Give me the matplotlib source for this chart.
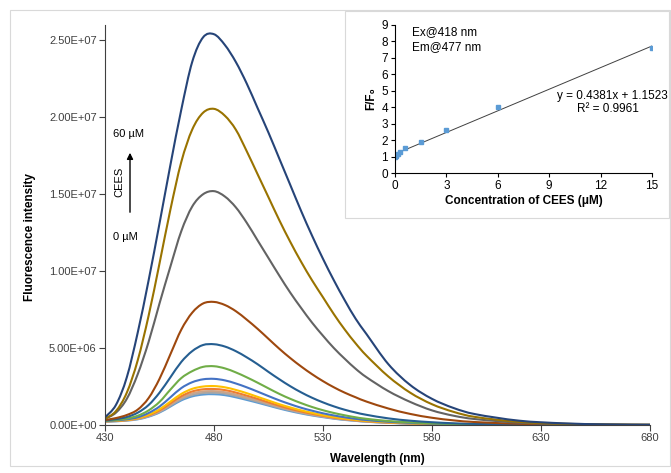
import matplotlib.pyplot as plt
from matplotlib.patches import Rectangle, PathPatch
from matplotlib.path import Path
from matplotlib.ticker import FuncFormatter, MultipleLocator
import numpy as np

plt.rcParams['font.family'] = ['Liberation Sans', 'DejaVu Sans']

# emission wavelengths (nm)
wavelength = [430, 435, 440, 445, 450, 455, 460, 465, 470, 475, 480, 485, 490,
              495, 500, 505, 510, 515, 520, 525, 530, 535, 540, 545, 550,
              560, 570, 580, 590, 600, 620, 640, 660, 680]

# intensities in units of 1e6, lowest concentration (0 uM) first
s_0 = [0.22, 0.24, 0.29, 0.37, 0.54, 0.81, 1.2, 1.6, 1.86, 1.98, 2.0, 1.94, 1.8,
       1.63, 1.45, 1.26, 1.07, 0.9, 0.75, 0.62, 0.51, 0.41, 0.33, 0.27, 0.21,
       0.14, 0.09, 0.06, 0.04, 0.02, 0.01, 0, 0, 0]
s_1 = [0.23, 0.25, 0.3, 0.39, 0.57, 0.85, 1.26, 1.68, 1.95, 2.08, 2.1, 2.04, 1.89,
       1.71, 1.52, 1.32, 1.12, 0.95, 0.79, 0.65, 0.54, 0.43, 0.35, 0.28, 0.22,
       0.15, 0.1, 0.06, 0.04, 0.02, 0.01, 0, 0, 0]
s_2 = [0.23, 0.26, 0.31, 0.41, 0.6, 0.89, 1.32, 1.76, 2.05, 2.18, 2.2, 2.13, 1.98,
       1.79, 1.6, 1.39, 1.18, 0.99, 0.83, 0.68, 0.56, 0.45, 0.36, 0.3, 0.23,
       0.15, 0.1, 0.07, 0.04, 0.02, 0.01, 0, 0, 0]
s_3 = [0.24, 0.27, 0.32, 0.43, 0.63, 0.95, 1.41, 1.87, 2.18, 2.32, 2.34, 2.27, 2.11,
       1.91, 1.7, 1.47, 1.25, 1.05, 0.88, 0.73, 0.6, 0.48, 0.39, 0.31, 0.25,
       0.16, 0.11, 0.07, 0.05, 0.03, 0.01, 0, 0, 0]
s_4 = [0.25, 0.28, 0.34, 0.45, 0.67, 1.02, 1.52, 2.02, 2.35, 2.5, 2.53, 2.45, 2.28,
       2.07, 1.83, 1.59, 1.35, 1.14, 0.95, 0.79, 0.64, 0.52, 0.42, 0.34, 0.27,
       0.18, 0.12, 0.08, 0.05, 0.03, 0.01, 0, 0, 0]
s_5 = [0.26, 0.3, 0.37, 0.5, 0.78, 1.2, 1.8, 2.4, 2.78, 2.97, 3.0, 2.9, 2.7,
       2.45, 2.17, 1.88, 1.6, 1.35, 1.12, 0.93, 0.76, 0.62, 0.5, 0.4, 0.32,
       0.21, 0.14, 0.09, 0.06, 0.04, 0.02, 0.01, 0, 0]
s_6 = [0.28, 0.33, 0.42, 0.6, 0.95, 1.5, 2.3, 3.05, 3.5, 3.78, 3.82, 3.68, 3.42,
       3.1, 2.75, 2.38, 2.02, 1.7, 1.42, 1.17, 0.96, 0.78, 0.63, 0.5, 0.4,
       0.26, 0.17, 0.11, 0.07, 0.05, 0.02, 0.01, 0, 0]
s_7 = [0.3, 0.38, 0.52, 0.8, 1.3, 2.1, 3.1, 4.1, 4.8, 5.2, 5.25, 5.1, 4.8,
       4.4, 3.95, 3.45, 2.97, 2.52, 2.12, 1.77, 1.47, 1.21, 0.99, 0.81, 0.66,
       0.43, 0.28, 0.18, 0.11, 0.07, 0.03, 0.01, 0, 0]
s_8 = [0.32, 0.45, 0.65, 1.0, 1.75, 3.0, 4.6, 6.2, 7.3, 7.9, 8.0, 7.8, 7.4,
       6.85, 6.25, 5.6, 4.95, 4.35, 3.8, 3.3, 2.85, 2.45, 2.1, 1.8, 1.52,
       1.07, 0.72, 0.47, 0.3, 0.19, 0.08, 0.03, 0.01, 0]
s_9 = [0.4, 0.8, 1.7, 3.3, 5.4, 7.9, 10.3, 12.6, 14.2, 15.0, 15.2, 14.85, 14.15,
       13.15, 12.0, 10.85, 9.7, 8.6, 7.6, 6.65, 5.8, 5.0, 4.3, 3.65, 3.1,
       2.2, 1.5, 0.95, 0.6, 0.38, 0.15, 0.06, 0.02, 0.01]
s_10 = [0.4, 0.9, 2.1, 4.2, 7.1, 10.5, 14.0, 17.1, 19.2, 20.3, 20.55, 20.1, 19.2,
        17.8, 16.3, 14.8, 13.3, 11.9, 10.6, 9.4, 8.3, 7.2, 6.2, 5.3, 4.5,
        3.15, 2.1, 1.35, 0.85, 0.52, 0.2, 0.08, 0.03, 0.01]
s_11 = [0.5, 1.3, 3.1, 6.0, 9.4, 13.1, 16.9, 20.5, 23.6, 25.2, 25.4, 24.7, 23.6,
        22.2, 20.6, 19.0, 17.3, 15.6, 13.9, 12.3, 10.8, 9.4, 8.1, 6.9, 5.9,
        3.95, 2.6, 1.7, 1.1, 0.7, 0.28, 0.11, 0.04, 0.015]

spectra = [s_0, s_1, s_2, s_3, s_4, s_5, s_6, s_7, s_8, s_9, s_10, s_11]
colors = ['#5B9BD5', '#A5A5A5', '#C9A48A', '#ED7D31', '#FFC000', '#4472C4',
          '#70AD47', '#255E91', '#9E480E', '#636363', '#997300', '#264478']

# inset: F/F0 vs concentration
conc = [0, 0.03, 0.06, 0.15, 0.3, 0.6, 1.5, 3, 6, 15]
ratio = [1.0, 1.05, 1.1, 1.17, 1.26, 1.52, 1.88, 2.6, 4.0, 7.6]
slope, intercept = 0.4381, 1.1523

W, H = 671, 473
fig = plt.figure(figsize=(W / 100, H / 100), dpi=100)


def fx(px):
    return px / W


def fy(py):
    return 1 - py / H


def smooth_path(x, y):
    # Excel-style smoothed line: Catmull-Rom segments as cubic Beziers
    p = np.column_stack([x, y]).astype(float)
    n = len(p)
    verts = [p[0]]
    codes = [Path.MOVETO]
    for i in range(n - 1):
        p0 = p[max(i - 1, 0)]
        p1 = p[i]
        p2 = p[i + 1]
        p3 = p[min(i + 2, n - 1)]
        verts += [p1 + (p2 - p0) / 6, p2 - (p3 - p1) / 6, p2]
        codes += [Path.CURVE4] * 3
    return Path(verts, codes)


# outer chart border
fig.patches.append(Rectangle((fx(10), fy(466)), fx(660), (466 - 10) / H,
                             transform=fig.transFigure, fill=False,
                             edgecolor='#D9D9D9', linewidth=0.8))

ax = fig.add_axes([fx(105), fy(425), fx(545), (425 - 25) / H])
for y, c in zip(spectra, colors):
    ax.add_patch(PathPatch(smooth_path(wavelength, np.array(y) * 1e6),
                           fill=False, edgecolor=c, linewidth=1.5,
                           capstyle='round', joinstyle='round'))

ax.set_xlim(430, 680)
ax.set_ylim(0, 2.6e7)
ax.set_xticks([430, 480, 530, 580, 630, 680])
ax.set_yticks(np.arange(0, 2.6e7, 5e6))
ax.yaxis.set_major_formatter(FuncFormatter(lambda v, p: f"{v:.2E}"))
ax.spines['top'].set_visible(False)
ax.spines['right'].set_visible(False)
for s in ['left', 'bottom']:
    ax.spines[s].set_color('#404040')
ax.tick_params(direction='out', length=4, width=0.8, color='#404040',
               labelsize=8, labelcolor='#404040', pad=2)
ax.set_xlabel("Wavelength (nm)", fontsize=8.5, fontweight='bold', labelpad=7)
ax.set_ylabel("Fluorescence intensity", fontsize=8.5, fontweight='bold')
ax.yaxis.set_label_coords(-0.127, 0.47)

# concentration arrow
fig.add_artist(plt.Annotation('', xy=(fx(130), fy(150)), xytext=(fx(130), fy(215)),
                              xycoords='figure fraction',
                              arrowprops=dict(arrowstyle='-|>', color='black',
                                              lw=1.0, mutation_scale=9)))
fig.text(fx(113), fy(134), "60 µM", fontsize=8, va='center', ha='left')
fig.text(fx(113), fy(237), "0 µM", fontsize=8, va='center', ha='left')
fig.text(fx(119), fy(182), "CEES", fontsize=8, rotation=90, va='center', ha='center')

# inset
fig.patches.append(Rectangle((fx(345), fy(218)), fx(669 - 345), (218 - 11) / H,
                             transform=fig.transFigure, facecolor='white',
                             edgecolor='#D9D9D9', linewidth=0.8, zorder=2))
ins = fig.add_axes([fx(395), fy(173), fx(652 - 395), (173 - 25) / H])
ins.set_zorder(3)
ins.patch.set_alpha(0)
xfit = np.array([0, 15])
ins.plot(xfit, slope * xfit + intercept, color='#404040', linewidth=0.7)
ins.plot(conc, ratio, 's', color='#5B9BD5', markersize=2.5)
ins.set_xlim(0, 15)
ins.set_ylim(0, 9)
ins.xaxis.set_major_locator(MultipleLocator(3))
ins.yaxis.set_major_locator(MultipleLocator(1))
ins.spines['top'].set_visible(False)
ins.spines['right'].set_visible(False)
ins.tick_params(direction='out', length=3, width=0.8, labelsize=8.5, pad=2)
ins.set_xlabel("Concentration of CEES (μM)", fontsize=8.5, fontweight='bold', labelpad=2)
ins.set_ylabel("F/F₀", fontsize=8.5, fontweight='bold', labelpad=3)
ins.text(0.065, 0.99, "Ex@418 nm\nEm@477 nm", transform=ins.transAxes,
         fontsize=8.5, va='top', ha='left', linespacing=1.3)
ins.text(1.06, 0.52, "y = 0.4381x + 1.1523", transform=ins.transAxes,
         fontsize=8.5, ha='right', va='center')
ins.text(0.83, 0.43, "R² = 0.9961", transform=ins.transAxes,
         fontsize=8.5, ha='center', va='center')

fig.savefig("out.png", dpi=100)
